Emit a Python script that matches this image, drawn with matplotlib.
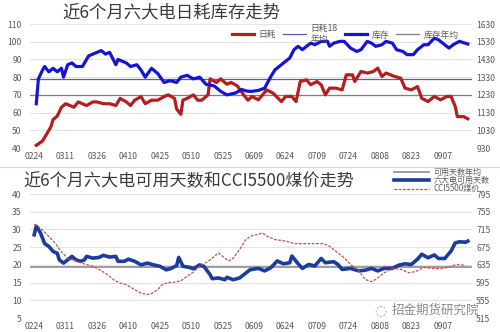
import matplotlib
matplotlib.use("Agg")
import matplotlib.pyplot as plt
from matplotlib.lines import Line2D

plt.rcParams['font.family'] = ['Noto Sans CJK SC', 'DejaVu Sans']
plt.rcParams['axes.unicode_minus'] = False

# x tick labels, one every 15 days starting 0224
date_labels = ['0224', '0311', '0326', '0410', '0425', '0510', '0525',
               '0609', '0624', '0709', '0724', '0808', '0823', '0907']

# --- top panel: daily burn (left axis) and stock (right axis) ---
burn_days = [1, 4, 6, 8, 9, 11, 13, 15, 17, 19, 21, 23, 25, 28, 30, 33, 36, 39,
             41, 44, 46, 48, 51, 53, 56, 59, 62, 64, 67, 68, 70, 71, 73, 76, 78,
             80, 83, 84, 87, 89, 92, 94, 97, 100, 102, 104, 107, 111, 114, 118,
             120, 123, 125, 127, 130, 132, 135, 137, 139, 141, 144, 147, 149,
             152, 153, 156, 159, 162, 164, 166, 168, 172, 175, 177, 180, 183,
             185, 188, 191, 194, 197, 199, 201, 202, 205, 207]
burn_vals = [41.5, 44, 48, 52, 56, 58, 63, 65, 64, 63, 66, 65, 64, 66, 66, 65, 65, 64,
             68, 66, 64, 67, 69, 65, 67, 67, 69, 70, 68, 62, 59, 67, 68, 70, 67,
             67, 70, 79, 77, 79, 76, 77, 75, 70, 67, 69.1, 67.2, 72.8, 71, 66.2,
             69.1, 69.1, 66.2, 77.5, 78.5, 75.7, 77.5, 75.7, 70, 73.8, 73.8, 72.8, 81.3,
             81.3, 77.5, 83.2, 82.3, 83.2, 85.1, 80.4, 82.3, 80.4, 79.4, 73.8, 72.8, 74.7,
             68.1, 66.2, 69.1, 67.2, 69.1, 69.1, 63.4, 57.7, 57.7, 56.5]

stock_days = [1, 2, 4, 5, 7, 9, 11, 13, 14, 16, 18, 20, 23, 26, 28, 32, 34, 36,
              39, 40, 44, 46, 49, 51, 53, 56, 59, 62, 65, 68, 70, 73, 76, 79, 82,
              86, 89, 92, 96, 99, 102, 104, 107, 110, 113, 115, 118, 120, 122,
              124, 126, 128, 130, 132, 134, 137, 140, 141, 143, 146, 148, 151,
              154, 156, 159, 161, 163, 166, 168, 171, 173, 176, 178, 181, 183,
              186, 188, 191, 193, 195, 198, 200, 203, 207]
stock_vals = [1180, 1320, 1370, 1390, 1360, 1380, 1360, 1380, 1330, 1400, 1410, 1390,
              1390, 1450, 1460, 1480, 1460, 1470, 1400, 1430, 1410, 1390, 1400, 1370,
              1330, 1380, 1350, 1300, 1310, 1300, 1330, 1340, 1320, 1330, 1290, 1280,
              1250, 1230, 1240, 1260, 1250, 1250, 1255, 1268, 1334, 1372, 1400, 1419,
              1438, 1485, 1504, 1485, 1504, 1522, 1513, 1532, 1532, 1504, 1522, 1532,
              1532, 1494, 1475, 1485, 1532, 1522, 1504, 1513, 1532, 1522, 1485, 1475,
              1457, 1457, 1485, 1513, 1513, 1550, 1541, 1522, 1494, 1513, 1532, 1517]

burn_avg18 = 79
stock_avg = 70  # on the left-axis scale (about 1230 on the right)

# --- bottom panel: usable days (left) and CCI5500 price (right) ---
days_x = [0, 1, 2, 3, 5, 7, 9, 11, 12, 14, 16, 18, 20, 22, 24, 25, 28, 31, 33, 36,
          39, 40, 43, 45, 48, 51, 54, 57, 60, 63, 65, 68, 69, 71, 74, 76, 79, 81,
          84, 85, 88, 91, 92, 95, 98, 100, 103, 107, 110, 113, 116, 119, 122, 123,
          126, 128, 131, 134, 137, 139, 143, 145, 147, 151, 155, 158, 161, 164,
          167, 171, 174, 177, 180, 183, 185, 188, 191, 193, 196, 199, 201, 203,
          206, 207]
days_vals = [28.5, 30.9, 30, 29, 26, 25.2, 23.8, 23.3, 21.4, 20.5, 21.4, 22.4, 21.4, 21,
             21.4, 22.4, 21.9, 22.1, 22.7, 22.2, 22.4, 21, 21, 21.6, 21, 20, 20.5, 20,
             19.6, 18.6, 18.9, 19.8, 22.1, 19.6, 19.3, 18.9, 20, 19.6, 17.2, 16.1, 16.3,
             15.8, 16.5, 15.8, 16.3, 17.2, 18.6, 19, 18.3, 19.2, 21.1, 20.3, 20.6, 22.5,
             20.3, 19, 20.1, 19.7, 21.8, 20.6, 20.9, 20.1, 18.7, 19, 18.3, 18.5, 19,
             18.3, 19, 19, 19.9, 20.3, 20.1, 21.6, 23, 22, 22.8, 21.8, 21.8, 23.9, 26.2,
             26.5, 26.4, 26.7]
days_avg = 19.4

cci_days = [0, 3, 7, 10, 13, 16, 20, 24, 28, 32, 35, 38, 41, 44, 48, 51, 54, 56, 59,
            61, 64, 67, 70, 73, 76, 79, 83, 86, 88, 91, 93, 95, 98, 101, 104, 107,
            109, 111, 115, 120, 124, 129, 134, 138, 141, 145, 148, 151, 155, 158,
            161, 163, 167, 171, 175, 179, 182, 186, 190, 194, 198, 201, 203, 206]
cci_vals = [727, 718, 699, 684, 664, 650, 643, 637, 632, 622, 613, 601, 594, 590, 579,
            571, 568, 570, 579, 590, 595, 596, 599, 609, 619, 632, 643, 654, 662, 650,
            644, 650, 669, 692, 701, 704, 707, 700, 692, 689, 683, 683, 683, 683, 677,
            662, 651, 636, 621, 602, 597, 602, 617, 627, 625, 617, 620, 629, 627, 626,
            630, 635, 636, 633]

RED = '#B41E1E'
BLUE = '#1414D2'
NAVY = '#1A3C9C'
GRAY_TXT = '#595959'
GRID = '#E3E3E3'

fig = plt.figure(figsize=(5.0, 3.32), dpi=100)

x_left, x_width = 30 / 500, 442 / 500
xlim = (-2, 209)
tick_pos = [15 * i for i in range(len(date_labels))]


def style_axes(ax, ax2, ylim, yticks, ylim2, yticks2):
    ax.set_xlim(*xlim)
    ax.set_ylim(*ylim)
    ax.set_yticks(yticks)
    ax.set_xticks(tick_pos)
    ax.set_xticklabels(date_labels)
    ax.grid(axis='y', color=GRID, lw=0.8)
    ax.set_axisbelow(True)
    ax2.set_ylim(*ylim2)
    ax2.set_yticks(yticks2)
    for a in (ax, ax2):
        for s in a.spines.values():
            s.set_visible(False)
        a.tick_params(length=0, labelsize=6.2, colors=GRAY_TXT, pad=3)
    ax.tick_params(axis='y', pad=6)
    ax2.tick_params(axis='y', pad=3)


# ---------- top ----------
ax1 = fig.add_axes([x_left, 1 - 148 / 332, x_width, 124 / 332])
ax1r = ax1.twinx()
style_axes(ax1, ax1r, (40, 110), range(40, 111, 10), (930, 1630), range(930, 1631, 100))

ax1.axhline(burn_avg18, color='#5A5AB4', lw=0.9, zorder=2)
ax1.axhline(stock_avg, color='#7F7F7F', lw=0.9, zorder=2)
ax1.plot(burn_days, burn_vals, color=RED, lw=2.3, zorder=3)
ax1r.plot(stock_days, stock_vals, color=BLUE, lw=2.3, zorder=3)

h_top = [Line2D([], [], color=RED, lw=2.3),
         Line2D([], [], color='#5A5AB4', lw=0.9),
         Line2D([], [], color=BLUE, lw=2.3),
         Line2D([], [], color='#7F7F7F', lw=0.9)]
fig.legend(h_top, ['日耗', '日耗18\n年均', '库存', '库存年均'], ncol=4,
           loc='center', bbox_to_anchor=(0.69, 1 - 34 / 332), frameon=False,
           fontsize=6.3, labelcolor=GRAY_TXT, handlelength=2.6, columnspacing=0.8,
           handletextpad=0.5, borderpad=0)

fig.text(0.342, 1 - 12 / 332, '近6个月六大电日耗库存走势', ha='center', va='center',
         fontsize=12.5, color='#3A3A3A')

# separator between the two charts
fig.add_artist(Line2D([0.0, 1.0], [1 - 167 / 332, 1 - 167 / 332], color='#D9D9D9', lw=0.8))

# ---------- bottom ----------
ax2 = fig.add_axes([x_left, 1 - 318 / 332, x_width, 124 / 332])
ax2r = ax2.twinx()
style_axes(ax2, ax2r, (5, 40), range(5, 41, 5), (515, 795), range(515, 796, 40))

ax2.axhline(days_avg, color='#8C8C8C', lw=1.2, zorder=2)
ax2.plot(days_x, days_vals, color=NAVY, lw=2.6, zorder=4)
ax2r.plot(cci_days, cci_vals, color='#C0504D', lw=0.9, ls=(0, (2.2, 1.2)), zorder=3)

h_bot = [Line2D([], [], color='#8C8C8C', lw=1.2),
         Line2D([], [], color=NAVY, lw=2.6),
         Line2D([], [], color='#C0504D', lw=0.9, ls=(0, (2.2, 1.2)))]
fig.legend(h_bot, ['可用天数年均', '六大电可用天数', 'CCI5500煤价'], ncol=1,
           loc='upper left', bbox_to_anchor=(390 / 500, 1 - 164 / 332), frameon=False,
           fontsize=5.8, labelcolor=GRAY_TXT, handlelength=4.4, handletextpad=0.5,
           labelspacing=-0.1, borderpad=0)

fig.text(23 / 500, 1 - 181 / 332, '近6个月六大电可用天数和CCI5500煤价走势', ha='left',
         va='center', fontsize=12.3, color='#3A3A3A')

# watermark
fig.text(374 / 500, 1 - 310 / 332, '◌', ha='left', va='center', fontsize=10,
         color='#A0A0A0', family=['DejaVu Sans'])
fig.text(392 / 500, 1 - 310 / 332, '招金期货研究院', ha='left', va='center',
         fontsize=9.0, color='#8A8A8A')

fig.savefig('out.png', dpi=100)
